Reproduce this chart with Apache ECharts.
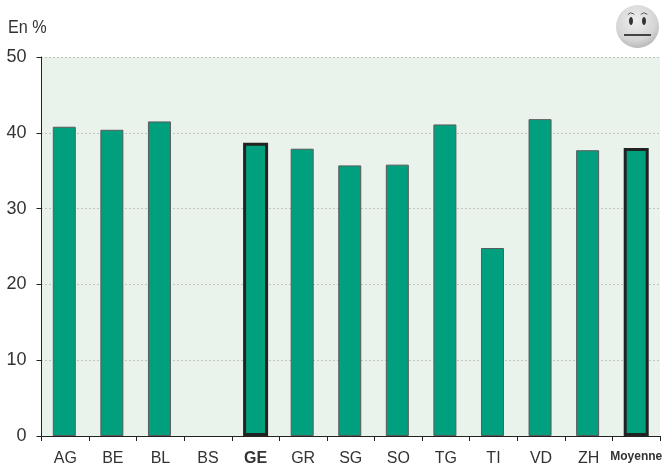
<!DOCTYPE html>
<html><head><meta charset="utf-8">
<style>html,body{margin:0;padding:0;background:#fff}#c{width:664px;height:468px}</style>
<script src="https://cdn.jsdelivr.net/npm/echarts@6/dist/echarts.min.js"></script>
</head><body><div id="c"></div>
<script>
const categories=['AG','BE','BL','BS','GE','GR','SG','SO','TG','TI','VD','ZH','Moyenne'];
const values=[40.8,40.4,41.5,null,38.7,37.9,35.7,35.8,41.1,24.8,41.8,37.7,38.0];
const highlighted=['GE','Moyenne'];
const yTicks={min:0,max:50,interval:10};
const unitLabel='En %';
const font='"Liberation Sans",Arial,sans-serif';
const isHi=i=>highlighted.includes(categories[i]);
const chart=echarts.init(document.getElementById('c'),null,{renderer:'canvas'});
chart.setOption({
 animation:false,
 backgroundColor:'#fff',
 grid:{left:41.5,right:4,top:57,bottom:32,backgroundColor:'#eaf2ec',show:true,borderWidth:0,outerBoundsMode:'none'},
 xAxis:{type:'category',data:categories,
  axisLine:{lineStyle:{color:'#222',width:1}},
  axisTick:{show:true,alignWithLabel:false,length:5,lineStyle:{color:'#222'},interval:0},
  axisLabel:{interval:0,margin:15,fontFamily:font,fontSize:16,color:'#333',hideOverlap:false,
   formatter:v=>v==='Moyenne'?'{m|'+v+'}':highlighted.includes(v)?'{b|'+v+'}':v,
   rich:{b:{fontFamily:font,fontSize:16,fontWeight:'bold',color:'#333'},
         m:{fontFamily:font,fontSize:12,fontWeight:'bold',color:'#333'}}}},
 yAxis:{type:'value',min:yTicks.min,max:yTicks.max,interval:yTicks.interval,
  axisLine:{show:true,lineStyle:{color:'#222',width:1}},
  axisTick:{show:true,length:5,lineStyle:{color:'#222'}},
  axisLabel:{margin:15,fontFamily:font,fontSize:18,color:'#333'},
  splitLine:{show:true,lineStyle:{color:'#999',type:[1,3],width:1}}},
 series:[
  {type:'bar',barWidth:23,barGap:'-100%',
   itemStyle:{color:'#00a07f',borderColor:'#5a5a5a',borderWidth:1},
   data:values.map((v,i)=>isHi(i)?null:v)},
  {type:'bar',barWidth:25,barGap:'-100%',
   itemStyle:{color:'#00a07f',borderColor:'#222',borderWidth:3},
   data:values.map((v,i)=>isHi(i)?v:null)}
 ],
 graphic:[
  {type:'text',left:8,top:19,scaleX:0.9,style:{text:unitLabel,font:'18px '+font,fill:'#333'}},
  {type:'group',left:616,top:5,silent:true,children:[
   {type:'circle',shape:{cx:21.5,cy:21.5,r:21.5},style:{fill:{type:'radial',x:0.45,y:0.35,r:0.7,
     colorStops:[{offset:0,color:'#eeeeee'},{offset:0.7,color:'#d4d4d4'},{offset:1,color:'#b0b0b0'}]}}},
   {type:'ellipse',shape:{cx:15,cy:16,rx:2,ry:4},style:{fill:'#333'}},
   {type:'ellipse',shape:{cx:28,cy:16,rx:2,ry:4},style:{fill:'#333'}},
   {type:'arc',shape:{cx:15,cy:12,r:4,startAngle:Math.PI*1.2,endAngle:Math.PI*1.8},style:{stroke:'#555',lineWidth:1,fill:null}},
   {type:'arc',shape:{cx:28,cy:12,r:4,startAngle:Math.PI*1.2,endAngle:Math.PI*1.8},style:{stroke:'#555',lineWidth:1,fill:null}},
   {type:'line',shape:{x1:8,y1:30,x2:35,y2:30},style:{stroke:'#444',lineWidth:2}}
  ]}
 ]
});
</script></body></html>
